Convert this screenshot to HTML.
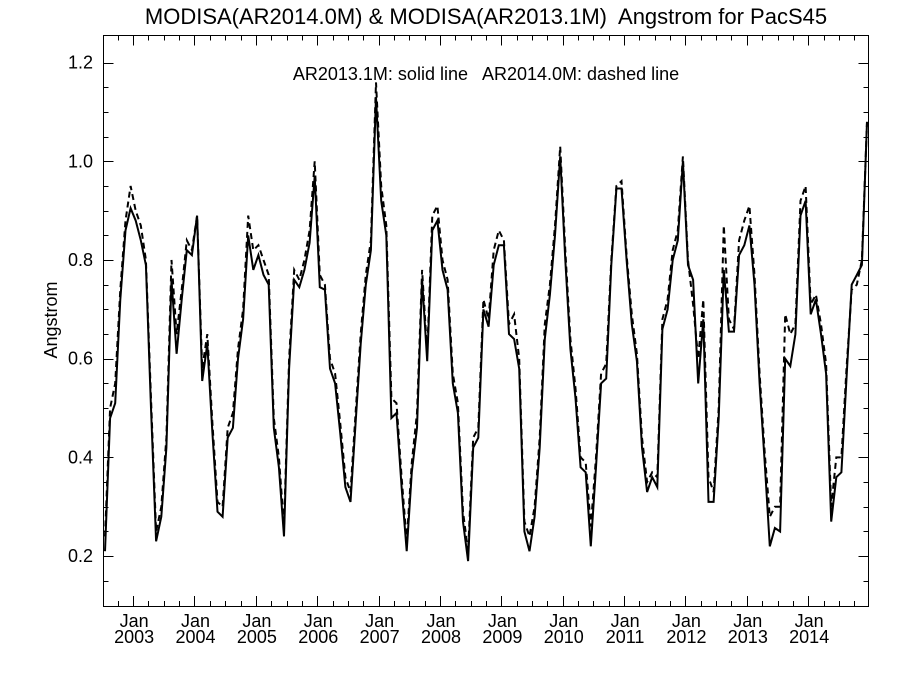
<!DOCTYPE html>
<html><head><meta charset="utf-8"><style>
body{margin:0;background:#fff}
svg{display:block;font-family:"Liberation Sans",sans-serif}
text{white-space:pre}
</style></head><body>
<svg id="chart" width="900" height="675" viewBox="0 0 900 675" xml:space="preserve">
<text x="486" y="24" font-size="22" text-anchor="middle">MODISA(AR2014.0M) &amp; MODISA(AR2013.1M)  Angstrom for PacS45</text>
<text x="486" y="80" font-size="18" text-anchor="middle">AR2013.1M: solid line   AR2014.0M: dashed line</text>
<text transform="translate(57,320) rotate(-90)" font-size="18" text-anchor="middle">Angstrom</text>
<rect x="103.5" y="35.5" width="765" height="571" fill="none" stroke="#000" stroke-width="1"/>
<g id="axes"></g>
<g id="series"></g>
</svg>
<script>
const yTicks=[0.2,0.4,0.6,0.8,1.0,1.2];
const yTickLabels=["0.2","0.4","0.6","0.8","1.0","1.2"];
const years=[2003,2004,2005,2006,2007,2008,2009,2010,2011,2012,2013,2014];
const solid=[0.21,0.48,0.51,0.72,0.86,0.905,0.88,0.84,0.79,0.50,0.23,0.28,0.42,0.76,0.61,0.72,0.82,0.81,0.89,0.555,0.63,0.45,0.29,0.28,
0.44,0.46,0.60,0.68,0.85,0.78,0.81,0.77,0.75,0.46,0.38,0.24,0.58,0.76,0.745,0.78,0.835,0.97,0.745,0.74,0.58,0.55,0.45,0.34,
0.31,0.47,0.63,0.75,0.82,1.13,0.92,0.85,0.48,0.49,0.34,0.21,0.37,0.46,0.76,0.595,0.86,0.88,0.78,0.74,0.55,0.49,0.27,0.19,
0.42,0.44,0.70,0.665,0.79,0.83,0.83,0.65,0.64,0.58,0.25,0.21,0.28,0.42,0.64,0.73,0.85,1.01,0.80,0.62,0.52,0.38,0.37,0.22,
0.38,0.55,0.56,0.79,0.945,0.945,0.80,0.67,0.595,0.42,0.33,0.36,0.34,0.66,0.70,0.80,0.84,1.0,0.79,0.76,0.55,0.68,0.31,0.31,
0.48,0.78,0.655,0.655,0.81,0.83,0.87,0.75,0.55,0.39,0.22,0.257,0.25,0.60,0.585,0.65,0.89,0.92,0.69,0.72,0.65,0.57,0.27,0.36,
0.37,0.56,0.75,0.77,0.79,1.08];
const dashed=[0.24,0.50,0.55,0.74,0.88,0.95,0.90,0.87,0.80,0.52,0.25,0.30,0.44,0.80,0.65,0.74,0.84,0.82,0.89,0.58,0.65,0.47,0.31,0.30,
0.46,0.49,0.62,0.70,0.89,0.82,0.83,0.80,0.77,0.48,0.40,0.26,0.60,0.78,0.76,0.80,0.86,1.00,0.77,0.75,0.60,0.57,0.47,0.36,
0.33,0.49,0.65,0.77,0.84,1.16,0.95,0.87,0.52,0.51,0.36,0.23,0.39,0.49,0.78,0.61,0.89,0.91,0.80,0.76,0.57,0.51,0.29,0.21,
0.44,0.46,0.72,0.68,0.82,0.86,0.84,0.67,0.69,0.60,0.27,0.24,0.30,0.44,0.67,0.75,0.87,1.03,0.82,0.64,0.54,0.40,0.39,0.26,
0.40,0.57,0.59,0.80,0.95,0.96,0.81,0.69,0.61,0.44,0.35,0.37,0.36,0.68,0.72,0.82,0.86,1.01,0.80,0.71,0.60,0.72,0.36,0.33,
0.50,0.87,0.68,0.66,0.84,0.88,0.91,0.77,0.57,0.41,0.28,0.30,0.30,0.69,0.65,0.67,0.92,0.95,0.71,0.73,0.67,0.59,0.30,0.40,
0.40,0.58,0.74,0.75,0.80,1.08];
const X0=105,X1=867,Y0=605.5,Y1=35.5,VMIN=0.1,VMAX=1.255,N=150;
function xs(i){return X0+(X1-X0)*i/(N-1);}
function ys(v){return Y0-(v-VMIN)/(VMAX-VMIN)*(Y0-Y1);}
const NS="http://www.w3.org/2000/svg";
const axes=document.getElementById('axes'),ser=document.getElementById('series');
function mk(tag,attrs,parent){const e=document.createElementNS(NS,tag);for(const k in attrs)e.setAttribute(k,attrs[k]);parent.appendChild(e);return e;}
for(let k=0;k<=23;k++){const v=0.1+k*0.05;if(v>1.25)break;const y=Math.round(ys(v))+0.5;const major=Math.abs((v*10)%2)<0.01||Math.abs((v*10)%2-2)<0.01;const len=major?10:5;
const t1=mk('line',{x1:103.5,x2:103.5+len,y1:y,y2:y,stroke:'#000'},axes);


const t2=mk('line',{x1:868.5,x2:868.5-len,y1:y,y2:y,stroke:'#000'},axes);

}
yTicks.forEach((v,j)=>{const t=mk('text',{x:93,y:ys(v)+6,'font-size':18,'text-anchor':'end'},axes);t.textContent=yTickLabels[j];

});
const monthW=(X1-X0)/(N-1);
for(let i=0;i<N;i++){const m=(6+i)%12;if(m%3!==0)continue;const x=Math.round(X0+(i-0.5)*monthW)+0.5;if(x<104||x>868)continue;const len=m===0?10:5;
const a=mk('line',{x1:x,x2:x,y1:606,y2:606-len,stroke:'#000'},axes);


const b=mk('line',{x1:x,x2:x,y1:35.5,y2:35.5+len,stroke:'#000'},axes);

}
years.forEach(yr=>{const i=6+12*(yr-2003);const x=X0+(i-0.5)*monthW+1;
const t=mk('text',{x:x,y:627,'font-size':18,'text-anchor':'middle'},axes);t.textContent='Jan';


const u=mk('text',{x:x,y:643,'font-size':18,'text-anchor':'middle'},axes);u.textContent=String(yr);

});
function pts(a){return a.map((v,i)=>xs(i).toFixed(1)+','+ys(v).toFixed(1)).join(' ');}
const pd=mk('polyline',{points:pts(dashed),fill:'none',stroke:'#000','stroke-width':2,'stroke-dasharray':'6,4'},ser);


const ps=mk('polyline',{points:pts(solid),fill:'none',stroke:'#000','stroke-width':2,'stroke-linejoin':'miter'},ser);


</script>
</body></html>
